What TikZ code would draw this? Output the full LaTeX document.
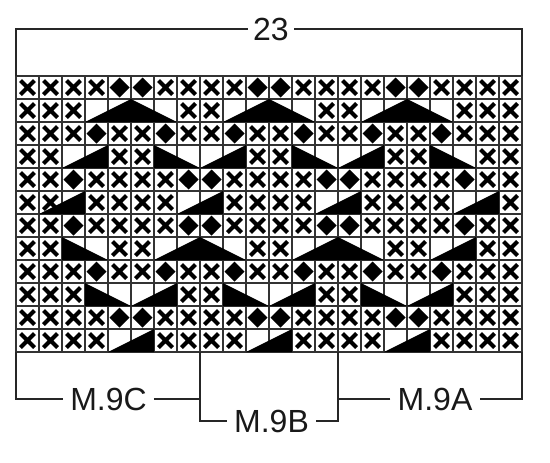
\documentclass[tikz,border=0pt]{standalone}
\usepackage{fontspec}
\setmainfont{Liberation Sans}
\begin{document}
\begin{tikzpicture}[x=1pt,y=-1pt,
  gridline/.style={draw=black!80, line width=1.4pt},
  xmark/.style={line width=4pt, draw=black},
  brk/.style={line width=2.4pt, draw=black!85},
  lbl/.style={font=\fontsize{32}{38}\selectfont, inner xsep=7pt, inner ysep=0pt, text=black!90}]
\useasboundingbox (0,0) rectangle (550,463);
\fill[white] (0,0) rectangle (550,463);
% grid
\foreach \i in {0,...,22} \draw[gridline] ({16+23*\i},76) -- ({16+23*\i},352);
\foreach \j in {0,...,12} \draw[gridline] (16,{76+23*\j}) -- (522,{76+23*\j});
% crosses
\foreach \r/\cols in {
  1/{1,2,3,4,7,8,9,10,13,14,15,16,19,20,21,22},
  2/{1,2,3,8,9,14,15,20,21,22},
  3/{1,2,3,5,6,8,9,11,12,14,15,17,18,20,21,22},
  4/{1,2,5,6,11,12,17,18,21,22},
  5/{1,2,4,5,6,7,10,11,12,13,16,17,18,19,21,22},
  6/{1,2,4,5,6,7,10,11,12,13,16,17,18,19,22},
  7/{1,2,4,5,6,7,10,11,12,13,16,17,18,19,21,22},
  8/{1,2,5,6,11,12,17,18,21,22},
  9/{1,2,3,5,6,8,9,11,12,14,15,17,18,20,21,22},
  10/{1,2,3,8,9,14,15,20,21,22},
  11/{1,2,3,4,7,8,9,10,13,14,15,16,19,20,21,22},
  12/{1,2,3,4,7,8,9,10,13,14,15,16,19,20,21,22}}
  \foreach \c in \cols
    \draw[xmark] ({16+23*\c-11.5-7},{76+23*\r-11.5-7}) -- ++(14,14)
                 ({16+23*\c-11.5+7},{76+23*\r-11.5-7}) -- ++(-14,14);
% diamonds
\foreach \r/\cols in {
  1/{5,6,11,12,17,18},
  3/{4,7,10,13,16,19},
  5/{3,8,9,14,15,20},
  7/{3,8,9,14,15,20},
  9/{4,7,10,13,16,19},
  11/{5,6,11,12,17,18}}
  \foreach \c in \cols
    \fill[black] ({16+23*\c-11.5},{76+23*\r-11.5-10}) -- ++(10,10) -- ++(-10,10) -- ++(-10,-10) -- cycle;
% wide triangles (4 cells)
\foreach \r/\cols in {2/{4,10,16}, 8/{7,13}}
  \foreach \c in \cols
    \fill[black] ({16+23*(\c-1)},{76+23*\r}) -- ++(46,-23) -- ++(46,23) -- cycle;
% rising triangles (2 cells)
\foreach \r/\cols in {4/{3,9,15}, 6/{2,8,14,20}, 8/{19}, 10/{6,12,18}, 12/{5,11,17}}
  \foreach \c in \cols
    \fill[black] ({16+23*(\c-1)},{76+23*\r}) -- ++(46,0) -- ++(0,-23) -- cycle;
% falling triangles (2 cells)
\foreach \r/\cols in {4/{7,13,19}, 8/{3}, 10/{4,10,16}}
  \foreach \c in \cols
    \fill[black] ({16+23*(\c-1)},{76+23*\r}) -- ++(46,0) -- ++(-46,-23) -- cycle;
% coordinates
\coordinate (tl) at (16,76);
\coordinate (tr) at (522,76);
\coordinate (bl) at (16,352);
\coordinate (bc) at (200,352);
\coordinate (bb) at (338,352);
\coordinate (br) at (522,352);
% labels
\node[lbl, inner xsep=5pt] (n23) at (271,29) {23};
\node[lbl] (m9c) at (108.5,399) {M.9C};
\node[lbl] (m9b) at (271.5,421) {M.9B};
\node[lbl] (m9a) at (435,399) {M.9A};
% brackets
\draw[brk] (tl) |- (n23.west);
\draw[brk] (tr) |- (n23.east);
\draw[brk] (bl) |- (m9c.west);
\draw[brk] (br) |- (m9a.east);
\draw[brk] (bc) |- (m9b.west);
\draw[brk] (bb) |- (m9b.east);
\draw[brk] (m9c.east) -- (m9c.east -| bc);
\draw[brk] (m9a.west) -- (m9a.west -| bb);
\end{tikzpicture}
\end{document}
